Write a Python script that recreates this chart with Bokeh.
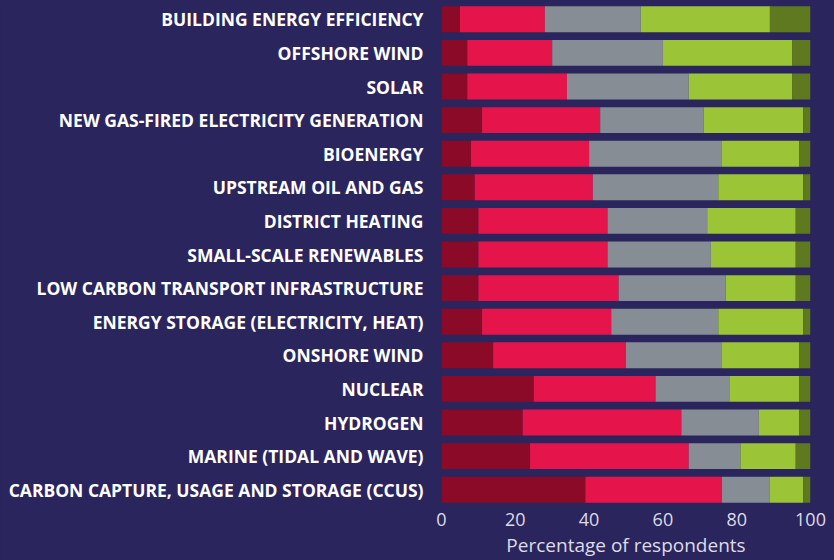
from bokeh.plotting import figure
from bokeh.models import ColumnDataSource
from bokeh.embed import file_html
from bokeh.resources import INLINE

categories = [
    "BUILDING ENERGY EFFICIENCY",
    "OFFSHORE WIND",
    "SOLAR",
    "NEW GAS-FIRED ELECTRICITY GENERATION",
    "BIOENERGY",
    "UPSTREAM OIL AND GAS",
    "DISTRICT HEATING",
    "SMALL-SCALE RENEWABLES",
    "LOW CARBON TRANSPORT INFRASTRUCTURE",
    "ENERGY STORAGE (ELECTRICITY, HEAT)",
    "ONSHORE WIND",
    "NUCLEAR",
    "HYDROGEN",
    "MARINE (TIDAL AND WAVE)",
    "CARBON CAPTURE, USAGE AND STORAGE (CCUS)",
]
s1 = [5, 7, 7, 11, 8, 9, 10, 10, 10, 11, 14, 25, 22, 24, 39]
s2 = [23, 23, 27, 32, 32, 32, 35, 35, 38, 35, 36, 33, 43, 43, 37]
s3 = [26, 30, 33, 28, 36, 34, 27, 28, 29, 29, 26, 20, 21, 14, 13]
s4 = [35, 35, 28, 27, 21, 23, 24, 23, 19, 23, 21, 19, 11, 15, 9]
s5 = [11, 5, 5, 2, 3, 2, 4, 4, 4, 2, 3, 3, 3, 4, 2]
x_ticks = [0, 20, 40, 60, 80, 100]

BG = "#2b255e"
colors = ["#8b0a27", "#e5154b", "#868d94", "#9bc536", "#5e791f"]
fields = ["s1", "s2", "s3", "s4", "s5"]

source = ColumnDataSource(dict(cat=categories, s1=s1, s2=s2, s3=s3, s4=s4, s5=s5))

p = figure(
    y_range=list(reversed(categories)),
    x_range=(0, 100),
    width=834,
    height=560,
    output_backend="svg",
    toolbar_location=None,
    min_border_left=441,
    min_border_right=24,
    min_border_top=2,
    min_border_bottom=53,
)
p.hbar_stack(fields, y="cat", height=0.77, color=colors, source=source, line_width=0)

p.background_fill_color = BG
p.border_fill_color = BG
p.outline_line_color = None
p.grid.grid_line_color = None

p.xaxis.ticker = x_ticks
p.xaxis.axis_label = "Percentage of respondents"
p.xaxis.axis_line_color = None
p.xaxis.major_tick_line_color = None
p.xaxis.minor_tick_line_color = None
p.xaxis.major_tick_out = 0
p.xaxis.major_tick_in = 0
p.xaxis.major_label_standoff = 6
p.xaxis.major_label_text_font = "Open Sans"
p.xaxis.major_label_text_font_size = "18px"
p.xaxis.major_label_text_color = "#dcdce8"
p.xaxis.axis_label_text_font = "Open Sans"
p.xaxis.axis_label_text_font_style = "normal"
p.xaxis.axis_label_text_font_size = "19px"
p.xaxis.axis_label_text_color = "#dcdce8"
p.xaxis.axis_label_standoff = 3

p.yaxis.axis_line_color = None
p.yaxis.major_tick_line_color = None
p.yaxis.major_tick_out = 0
p.yaxis.major_tick_in = 0
p.yaxis.major_label_standoff = 18
p.yaxis.major_label_text_font = "Open Sans"
p.yaxis.major_label_text_font_style = "bold"
p.yaxis.major_label_text_font_size = "17.5px"
p.yaxis.major_label_text_color = "#ffffff"

html = file_html(p, INLINE)
html = html.replace("<head>", "<head><style>html,body{margin:0;padding:0;background:%s;overflow:hidden;}</style>" % BG, 1)
open("out.html", "w").write(html)
